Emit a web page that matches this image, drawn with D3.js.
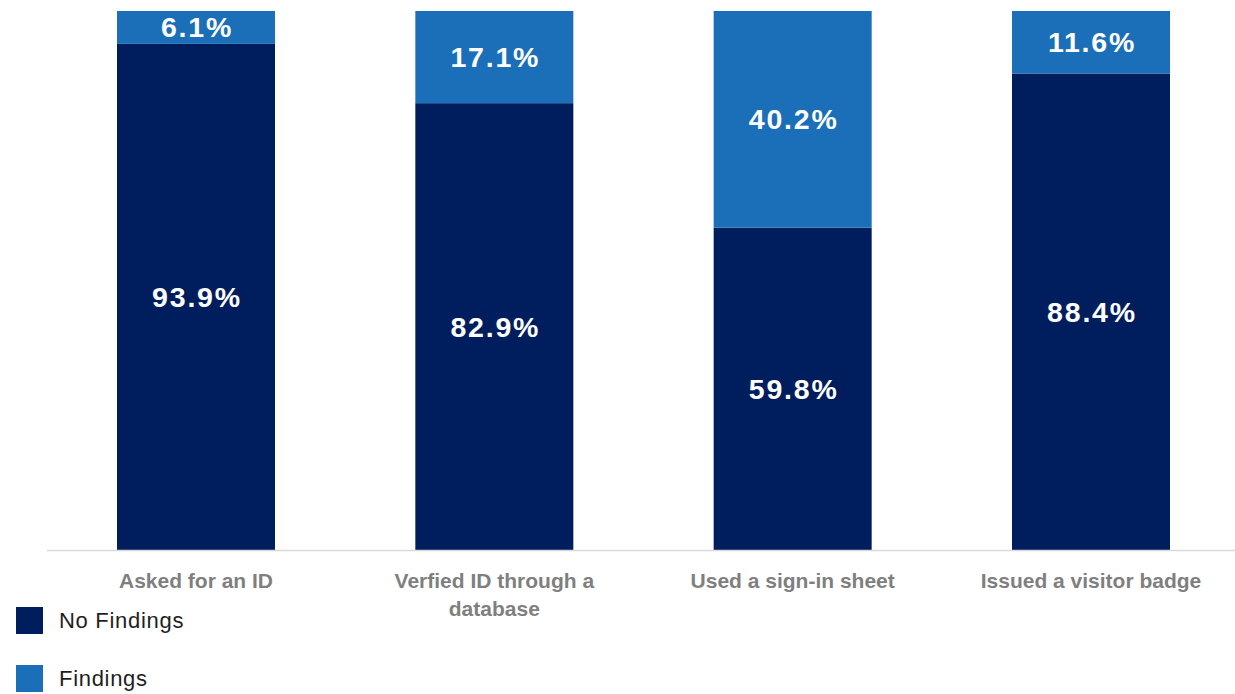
<!DOCTYPE html>
<html><head><meta charset="utf-8">
<script src="https://cdn.jsdelivr.net/npm/d3@7"></script>
<style>body{margin:0;background:#fff;} svg{display:block;}</style>
</head><body>
<svg id="chart" width="1235" height="694"></svg>
<script>
const categories = ["Asked for an ID", "Verfied ID through a database", "Used a sign-in sheet", "Issued a visitor badge"];
const categoryLines = [["Asked for an ID"], ["Verfied ID through a", "database"], ["Used a sign-in sheet"], ["Issued a visitor badge"]];
const noFindings = [93.9, 82.9, 59.8, 88.4];
const findings = [6.1, 17.1, 40.2, 11.6];
const seriesNames = ["No Findings", "Findings"];
const colors = ["#001D5E", "#1A6FB8"];

const svg = d3.select("#chart");
const x = d3.scaleBand().domain(categories).range([46.83, 1240.17]).paddingInner(0.4704).paddingOuter(0.2352);
const y = d3.scaleLinear().domain([0, 100]).range([550, 11]);

const data = categories.map((c, i) => ({cat: c, vals: [noFindings[i], findings[i]]}));
const stack = d3.stack().keys([0, 1]).value((d, k) => d.vals[k]);
const series = stack(data);

series.forEach((s, si) => {
  const g = svg.append("g");
  g.selectAll("rect").data(s).enter().append("rect")
    .attr("x", d => x(d.data.cat))
    .attr("width", x.bandwidth())
    .attr("y", d => y(d[1]))
    .attr("height", d => y(d[0]) - y(d[1]))
    .attr("fill", colors[si]);
  g.selectAll("text").data(s).enter().append("text")
    .attr("x", d => x(d.data.cat) + x.bandwidth() / 2 + 1)
    .attr("y", d => (y(d[0]) + y(d[1])) / 2 + 10)
    .attr("text-anchor", "middle")
    .attr("fill", "#fff")
    .attr("font-family", "Liberation Sans, Arial, sans-serif")
    .attr("font-weight", "bold")
    .attr("font-size", 28.5)
    .attr("letter-spacing", 1.8)
    .text(d => d.data.vals[si].toFixed(1) + "%");
});

svg.append("line").attr("x1", 47).attr("x2", 1235).attr("y1", 550.5).attr("y2", 550.5)
  .attr("stroke", "#d9d9d9").attr("stroke-width", 1.5);

categories.forEach((c, i) => {
  const t = svg.append("text")
    .attr("x", x(c) + x.bandwidth() / 2)
    .attr("y", 588)
    .attr("text-anchor", "middle")
    .attr("fill", "#7f7f7f")
    .attr("font-family", "Liberation Sans, Arial, sans-serif")
    .attr("font-weight", "bold")
    .attr("font-size", 21);
  categoryLines[i].forEach((ln, j) => {
    t.append("tspan").attr("x", x(c) + x.bandwidth() / 2).attr("y", 588 + j * 28).text(ln);
  });
});

seriesNames.forEach((n, i) => {
  const yy = 607 + i * 58;
  svg.append("rect").attr("x", 16).attr("y", yy).attr("width", 27).attr("height", 27).attr("fill", colors[i]);
  svg.append("text").attr("x", 59).attr("y", yy + 21)
    .attr("fill", "#1f1f1f").attr("font-family", "Liberation Sans, Arial, sans-serif")
    .attr("font-size", 22).attr("letter-spacing", 0.7).text(n);
});
</script>
</body></html>
